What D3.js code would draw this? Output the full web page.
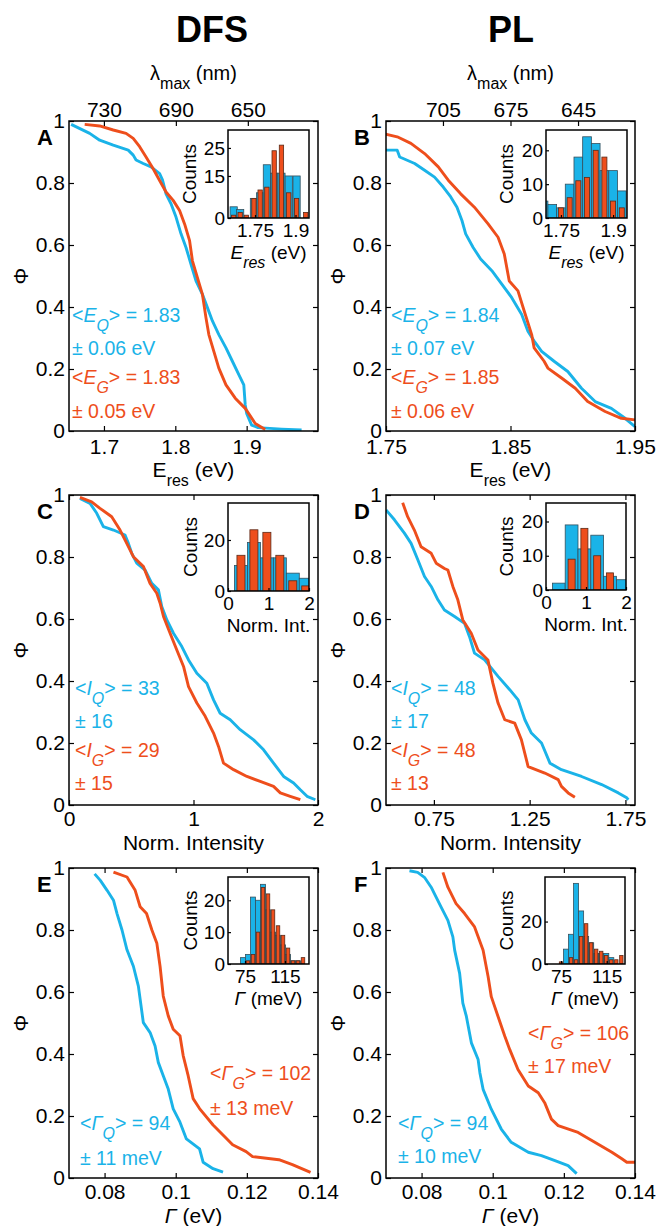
<!DOCTYPE html>
<html><head><meta charset="utf-8">
<script src="https://cdn.jsdelivr.net/npm/d3@7"></script>
<style>body{margin:0;background:#fff}svg{display:block}</style>
</head><body><svg id="c" width="658" height="1226"></svg>
<script>
// ---------------- DATA ----------------
const phiTicks = [0, 0.2, 0.4, 0.6, 0.8, 1];
const phiLabels = ["0", "0.2", "0.4", "0.6", "0.8", "1"];

const xTicksA = [1.7, 1.8, 1.9], xLabelsA = ["1.7", "1.8", "1.9"];
const xTicksB = [1.75, 1.85, 1.95], xLabelsB = ["1.75", "1.85", "1.95"];
const xTicksC = [0, 1, 2], xLabelsC = ["0", "1", "2"];
const xTicksD = [0.75, 1.25, 1.75], xLabelsD = ["0.75", "1.25", "1.75"];
const xTicksEF = [0.08, 0.1, 0.12, 0.14], xLabelsEF = ["0.08", "0.1", "0.12", "0.14"];
const lambdaTicksA = [730, 690, 650];
const lambdaTicksB = [705, 675, 645];

// CDF curves [value, Phi]
const curveA_Q = [[1.654,0.989],[1.680,0.96],[1.694,0.938],[1.713,0.922],[1.734,0.906],[1.741,0.89],[1.745,0.874],[1.755,0.863],[1.766,0.852],[1.778,0.83],[1.782,0.81],[1.787,0.765],[1.794,0.733],[1.801,0.69],[1.808,0.636],[1.815,0.592],[1.822,0.538],[1.829,0.484],[1.838,0.441],[1.845,0.398],[1.852,0.355],[1.861,0.311],[1.871,0.268],[1.880,0.225],[1.889,0.182],[1.896,0.149],[1.898,0.084],[1.900,0.057],[1.907,0.019],[1.916,0.011],[1.949,0.006],[1.977,0.003]];
const curveA_G = [[1.673,0.989],[1.694,0.984],[1.713,0.971],[1.731,0.96],[1.741,0.944],[1.75,0.917],[1.759,0.884],[1.769,0.846],[1.778,0.808],[1.787,0.771],[1.797,0.744],[1.806,0.711],[1.813,0.668],[1.82,0.614],[1.824,0.549],[1.831,0.495],[1.838,0.441],[1.843,0.365],[1.847,0.311],[1.854,0.257],[1.861,0.203],[1.871,0.149],[1.884,0.106],[1.898,0.073],[1.912,0.024],[1.926,0.005]];
const curveB_Q = [[1.745,0.906],[1.759,0.906],[1.761,0.884],[1.773,0.863],[1.781,0.841],[1.789,0.819],[1.796,0.787],[1.802,0.755],[1.807,0.722],[1.811,0.679],[1.814,0.636],[1.82,0.592],[1.826,0.555],[1.835,0.517],[1.843,0.474],[1.851,0.43],[1.859,0.376],[1.864,0.322],[1.869,0.29],[1.875,0.257],[1.885,0.225],[1.896,0.192],[1.907,0.138],[1.918,0.095],[1.931,0.073],[1.942,0.041],[1.95,0.014]];
const curveB_G = [[1.745,0.962],[1.759,0.949],[1.77,0.928],[1.781,0.895],[1.792,0.852],[1.8,0.809],[1.81,0.765],[1.821,0.722],[1.832,0.668],[1.84,0.625],[1.845,0.571],[1.849,0.484],[1.856,0.452],[1.861,0.387],[1.867,0.311],[1.869,0.268],[1.877,0.225],[1.88,0.203],[1.891,0.171],[1.902,0.138],[1.912,0.095],[1.926,0.063],[1.939,0.041],[1.95,0.036]];
const curveC_Q = [[0.088,0.989],[0.169,0.973],[0.223,0.941],[0.276,0.898],[0.357,0.887],[0.45,0.871],[0.477,0.844],[0.504,0.812],[0.544,0.78],[0.611,0.758],[0.665,0.715],[0.718,0.694],[0.745,0.64],[0.786,0.597],[0.839,0.554],[0.906,0.511],[0.96,0.468],[1.027,0.425],[1.107,0.393],[1.161,0.339],[1.214,0.296],[1.295,0.275],[1.375,0.243],[1.483,0.21],[1.563,0.178],[1.643,0.135],[1.724,0.092],[1.804,0.071],[1.858,0.049],[1.912,0.028],[1.979,0.017]];
const curveC_G = [[0.088,0.992],[0.182,0.978],[0.249,0.957],[0.343,0.93],[0.41,0.887],[0.464,0.844],[0.517,0.801],[0.598,0.769],[0.651,0.715],[0.705,0.683],[0.732,0.651],[0.759,0.608],[0.812,0.554],[0.866,0.5],[0.92,0.447],[0.96,0.382],[1.027,0.329],[1.094,0.286],[1.161,0.232],[1.201,0.189],[1.241,0.135],[1.322,0.114],[1.429,0.092],[1.536,0.076],[1.643,0.06],[1.697,0.039],[1.777,0.028],[1.858,0.017]];
const curveD_Q = [[0.5,0.952],[0.544,0.92],[0.596,0.877],[0.631,0.844],[0.666,0.791],[0.701,0.737],[0.736,0.705],[0.771,0.662],[0.805,0.629],[0.858,0.608],[0.91,0.586],[0.936,0.543],[0.962,0.49],[1.015,0.468],[1.085,0.415],[1.146,0.372],[1.19,0.339],[1.225,0.275],[1.259,0.232],[1.312,0.2],[1.356,0.135],[1.416,0.114],[1.521,0.092],[1.626,0.066],[1.713,0.039],[1.757,0.023],[1.765,0.017]];
const curveD_G = [[0.587,0.975],[0.613,0.93],[0.648,0.887],[0.683,0.833],[0.736,0.812],[0.762,0.78],[0.805,0.763],[0.823,0.758],[0.849,0.705],[0.875,0.662],[0.901,0.597],[0.945,0.554],[0.98,0.5],[1.032,0.468],[1.058,0.393],[1.085,0.329],[1.12,0.275],[1.172,0.264],[1.207,0.21],[1.242,0.124],[1.329,0.103],[1.399,0.082],[1.416,0.06],[1.451,0.039],[1.486,0.025]];
const curveE_Q = [[0.0772,0.981],[0.0788,0.96],[0.0807,0.928],[0.0825,0.896],[0.0835,0.853],[0.0849,0.8],[0.0863,0.736],[0.0881,0.683],[0.0895,0.619],[0.0909,0.501],[0.0928,0.469],[0.0942,0.426],[0.0951,0.373],[0.0965,0.33],[0.0979,0.287],[0.0993,0.223],[0.1012,0.18],[0.103,0.126],[0.1067,0.094],[0.1077,0.051],[0.1105,0.03],[0.1133,0.019]];
const curveE_G = [[0.0825,0.987],[0.0863,0.971],[0.0886,0.928],[0.09,0.875],[0.0918,0.853],[0.0933,0.8],[0.0947,0.757],[0.0956,0.683],[0.0965,0.587],[0.0979,0.523],[0.0993,0.48],[0.1012,0.459],[0.1021,0.395],[0.1035,0.33],[0.1049,0.256],[0.1067,0.224],[0.1105,0.171],[0.1142,0.128],[0.116,0.107],[0.1198,0.085],[0.1216,0.069],[0.129,0.059],[0.1328,0.043],[0.1379,0.018]];
const curveF_Q = [[0.0766,0.991],[0.0789,0.986],[0.0808,0.97],[0.0827,0.938],[0.0836,0.917],[0.0855,0.874],[0.0874,0.831],[0.0888,0.778],[0.0893,0.735],[0.0907,0.66],[0.0916,0.564],[0.0926,0.521],[0.094,0.436],[0.0959,0.382],[0.0964,0.339],[0.0973,0.286],[0.0996,0.222],[0.1024,0.158],[0.1052,0.115],[0.11,0.083],[0.1137,0.072],[0.1175,0.056],[0.1212,0.04],[0.1236,0.014]];
const curveF_G = [[0.086,0.986],[0.0874,0.938],[0.0897,0.885],[0.0921,0.853],[0.0949,0.81],[0.0973,0.735],[0.0987,0.65],[0.0996,0.585],[0.1015,0.521],[0.1034,0.457],[0.1048,0.414],[0.1071,0.35],[0.11,0.297],[0.1128,0.275],[0.1146,0.243],[0.1165,0.19],[0.1184,0.169],[0.124,0.147],[0.1287,0.115],[0.1335,0.083],[0.1363,0.062],[0.1377,0.051],[0.1405,0.051]];

// Inset histograms: bin centres and counts
const histA_bins = [1.671,1.695,1.718,1.746,1.769,1.794,1.821,1.848,1.875,1.904,1.938];
const histA_Q = [4,3,0,7,9,19,16,16,15,15,0];
const histA_G = [1,2,1,7,10,11,24,26,9,7,2];
const histB_bins = [1.70,1.725,1.75,1.775,1.80,1.825,1.85,1.875,1.90,1.925];
const histB_Q = [5,4,3,10,18,24,22,14,14,8];
const histB_G = [0,0,3,6,11,12,20,18,5,3];
const histC_bins = [0.32,0.64,0.96,1.28,1.60,1.92];
const histC_Q = [10,19,13,13,7,5];
const histC_G = [14,24,23,14,4,2];
const histD_bins = [0.32,0.64,0.96,1.28,1.60,1.92];
const histD_Q = [2,19,12,16,4,3];
const histD_G = [0,9,18,10,5,0];
const histE_bins = [73,78,83,88,93,98,103,108,113,118,123,128,133];
const histE_Q = [2,3,21,20,25,17,10,9,6,3,1,1,0];
const histE_G = [0,1,3,10,24,22,17,12,9,5,1,1,2];
const histF_bins = [75,79.4,83.8,88.2,92.6,97,101.4,105.8,110.2,114.6,119,123.4,127.8];
const histF_Q = [0,7,14,38,25,13,10,5,5,5,3,0,0];
const histF_G = [1,0,3,2,13,19,10,7,6,4,2,2,4];

const insetTicksAB_x = [1.75, 1.9], insetLabelsAB_x = ["1.75", "1.9"];
const insetTicksCD_x = [0, 1, 2], insetLabelsCD_x = ["0", "1", "2"];
const insetTicksEF_x = [75, 115], insetLabelsEF_x = ["75", "115"];

// ---------------- DRAW ----------------
const FONT = '"Liberation Sans", Arial, Helvetica, sans-serif';
const CY = "#1ab3e8", OR = "#ee4e1c";
const svg = d3.select("#c").attr("font-family", FONT);

function styleAxis(sel, fs) {
  sel.select(".domain").remove();
  sel.attr("font-family", FONT).attr("font-size", fs);
  sel.selectAll("line").attr("stroke", "#000").attr("stroke-width", 1.2);
  sel.selectAll("text").attr("fill", "#000");
}

function rich(parent, x, y, parts, opts) {
  const t = parent.append("text").attr("x", x).attr("y", y)
    .attr("font-size", opts.fs).attr("fill", opts.color || "#000")
    .attr("text-anchor", opts.anchor || "start");
  let shift = 0;
  parts.forEach(p => {
    const ts = t.append("tspan").text(p.t);
    const target = p.sub ? opts.subShift : 0;
    if (target !== shift) { ts.attr("dy", target - shift); shift = target; }
    if (p.sub) ts.attr("font-size", opts.subFs);
    if (p.i) ts.attr("font-style", "italic");
  });
  return t;
}

let clipN = 0;
function clip(x0, y0, x1, y1) {
  const id = "cl" + (clipN++);
  svg.append("clipPath").attr("id", id).append("rect")
    .attr("x", x0).attr("y", y0).attr("width", x1 - x0).attr("height", y1 - y0);
  return `url(#${id})`;
}

function panel(p) {
  const g = svg.append("g");
  const x = d3.scaleLinear().domain(p.xDomain).range([p.left, p.right]);
  const y = d3.scaleLinear().domain([0, 1]).range([p.bottom, p.top]);
  const cp = clip(p.left, p.top, p.right, p.bottom);
  const line = d3.line().x(d => x(d[0])).y(d => y(d[1]));
  g.append("path").datum(p.q).attr("d", line).attr("fill", "none").attr("stroke", CY)
    .attr("stroke-width", 2.9).attr("stroke-linejoin", "round").attr("clip-path", cp);
  g.append("path").datum(p.g).attr("d", line).attr("fill", "none").attr("stroke", OR)
    .attr("stroke-width", 2.9).attr("stroke-linejoin", "round").attr("clip-path", cp);

  g.append("g").attr("transform", `translate(0,${p.bottom})`)
    .call(d3.axisBottom(x).tickValues(p.xTicks).tickFormat((d, i) => p.xLabels[i])
      .tickSizeInner(-5).tickSizeOuter(0).tickPadding(p.xPad)).call(styleAxis, 21);
  if (p.lambda) {
    const xl = d3.scaleLinear().domain(p.lambdaDomain).range([p.left, p.right]);
    g.append("g").attr("transform", `translate(0,${p.top})`)
      .call(d3.axisTop(xl).tickValues(p.lambda).tickFormat(d => d)
        .tickSizeInner(-5).tickSizeOuter(0).tickPadding(4)).call(styleAxis, 21);
    rich(g, (p.left + p.right) / 2, 80,
      [{ t: "λ" }, { t: "max", sub: true }, { t: " (nm)" }],
      { fs: 20, subFs: 16, subShift: 9, anchor: "middle" });
  } else {
    g.append("g").attr("transform", `translate(0,${p.top})`)
      .call(d3.axisTop(x).tickValues(p.xTicks).tickFormat("")
        .tickSizeInner(-5).tickSizeOuter(0)).call(styleAxis, 21);
  }
  g.append("g").attr("transform", `translate(${p.left},0)`)
    .call(d3.axisLeft(y).tickValues(phiTicks).tickFormat((d, i) => phiLabels[i])
      .tickSizeInner(-5).tickSizeOuter(0).tickPadding(4)).call(styleAxis, 21);
  g.append("g").attr("transform", `translate(${p.right},0)`)
    .call(d3.axisRight(y).tickValues(phiTicks).tickFormat("")
      .tickSizeInner(-5).tickSizeOuter(0)).call(styleAxis, 21);
  g.append("rect").attr("x", p.left).attr("y", p.top).attr("width", p.right - p.left)
    .attr("height", p.bottom - p.top).attr("fill", "none").attr("stroke", "#000").attr("stroke-width", 1.5);

  g.append("text").attr("transform", `translate(${p.left - 41},${(p.top + p.bottom) / 2}) rotate(-90)`)
    .attr("text-anchor", "middle").attr("font-size", 21).text("Φ");
  g.append("text").attr("x", p.left - 32).attr("y", p.top + 24).attr("font-size", 22)
    .attr("font-weight", "bold").text(p.letter);
  rich(g, (p.left + p.right) / 2, p.bottom + p.xlabOff, p.xlab,
    { fs: 21, subFs: 16, subShift: 9, anchor: "middle" });

  p.legend.forEach(l => rich(g, l.x, l.y, l.parts,
    { fs: 19.5, subFs: 16, subShift: 9, color: l.c }));

  inset(p.inset);
}

function inset(s) {
  const g = svg.append("g");
  const x = d3.scaleLinear().domain(s.xDomain).range([s.left, s.right]);
  const y = d3.scaleLinear().domain([0, s.yMax]).range([s.bottom, s.top]);
  g.append("rect").attr("x", s.left).attr("y", s.top).attr("width", s.right - s.left)
    .attr("height", s.bottom - s.top).attr("fill", "#fff");
  const cp = clip(s.left, s.top, s.right, s.bottom);
  const bars = g.append("g").attr("clip-path", cp);
  const wq = s.binW, wg = s.binW * s.gFrac;
  bars.selectAll(".q").data(s.bins.map((b, i) => [b, s.q[i]]).filter(d => d[1] > 0)).join("rect")
    .attr("x", d => x(d[0] - wq / 2)).attr("width", d => x(d[0] + wq / 2) - x(d[0] - wq / 2))
    .attr("y", d => y(d[1])).attr("height", d => s.bottom - y(d[1]))
    .attr("fill", CY).attr("stroke", "#34505e").attr("stroke-width", 0.8);
  bars.selectAll(".g").data(s.bins.map((b, i) => [b, s.g[i]]).filter(d => d[1] > 0)).join("rect")
    .attr("x", d => x(d[0] - wg / 2)).attr("width", d => x(d[0] + wg / 2) - x(d[0] - wg / 2))
    .attr("y", d => y(d[1])).attr("height", d => s.bottom - y(d[1]))
    .attr("fill", OR).attr("stroke", "#5a2a18").attr("stroke-width", 0.8);

  g.append("g").attr("transform", `translate(0,${s.bottom})`)
    .call(d3.axisBottom(x).tickValues(s.xTicks).tickFormat((d, i) => s.xLabels[i])
      .tickSizeInner(-3).tickSizeOuter(0).tickPadding(6)).call(styleAxis, 19);
  g.append("g").attr("transform", `translate(${s.left},0)`)
    .call(d3.axisLeft(y).tickValues(s.yTicks).tickFormat(d => d)
      .tickSizeInner(-3).tickSizeOuter(0).tickPadding(3)).call(styleAxis, 19);
  g.append("rect").attr("x", s.left).attr("y", s.top).attr("width", s.right - s.left)
    .attr("height", s.bottom - s.top).attr("fill", "none").attr("stroke", "#000").attr("stroke-width", 1.5);
  g.append("text").attr("transform", `translate(${s.countsX},${(s.top + s.bottom) / 2}) rotate(-90)`)
    .attr("text-anchor", "middle").attr("font-size", 19).text("Counts");
  rich(g, (s.left + s.right) / 2, s.bottom + 41, s.xlab,
    { fs: 19, subFs: 16, subShift: 9, anchor: "middle" });
}

svg.append("text").attr("x", 212).attr("y", 42).attr("text-anchor", "middle")
  .attr("font-size", 36).attr("font-weight", "bold").text("DFS");
svg.append("text").attr("x", 511).attr("y", 42).attr("text-anchor", "middle")
  .attr("font-size", 36).attr("font-weight", "bold").text("PL");

const eresMain = [{ t: "E" }, { t: "res", sub: true }, { t: " (eV)" }];
const eresInset = [{ t: "E", i: true }, { t: "res", sub: true, i: true }, { t: " (eV)" }];
const gammaMain = [{ t: "Γ", i: true }, { t: " (eV)" }];
const gammaInset = [{ t: "Γ", i: true }, { t: " (meV)" }];
const normInset = [{ t: "Norm. Int." }];
const normMain = [{ t: "Norm. Intensity" }];

function meanLine(sym, sub, val) {
  return [{ t: "<" }, { t: sym, i: true }, { t: sub, sub: true, i: true }, { t: "> = " + val }];
}

panel({
  letter: "A", left: 69, right: 318, top: 121, bottom: 431, xDomain: [1.651, 2.0],
  q: curveA_Q, g: curveA_G, xTicks: xTicksA, xLabels: xLabelsA, xPad: 8,
  lambda: lambdaTicksA, lambdaDomain: [749.4, 611], xlab: eresMain, xlabOff: 46,
  legend: [
    { x: 72, y: 322, c: CY, parts: meanLine("E", "Q", "1.83") },
    { x: 72, y: 355, c: CY, parts: [{ t: "± 0.06 eV" }] },
    { x: 72, y: 384, c: OR, parts: meanLine("E", "G", "1.83") },
    { x: 72, y: 418, c: OR, parts: [{ t: "± 0.05 eV" }] }],
  inset: { left: 228, right: 309, top: 130, bottom: 218, xDomain: [1.65, 1.95], yMax: 31.4,
    bins: histA_bins, q: histA_Q, g: histA_G, binW: 0.0267, gFrac: 0.6,
    xTicks: insetTicksAB_x, xLabels: insetLabelsAB_x, yTicks: [0, 15, 25], countsX: 196, xlab: eresInset }
});
panel({
  letter: "B", left: 386, right: 635, top: 121, bottom: 431, xDomain: [1.75, 1.95],
  q: curveB_Q, g: curveB_G, xTicks: xTicksB, xLabels: xLabelsB, xPad: 8,
  lambda: lambdaTicksB, lambdaDomain: [730.3, 619.7], xlab: eresMain, xlabOff: 46,
  legend: [
    { x: 391, y: 322, c: CY, parts: meanLine("E", "Q", "1.84") },
    { x: 391, y: 355, c: CY, parts: [{ t: "± 0.07 eV" }] },
    { x: 391, y: 384, c: OR, parts: meanLine("E", "G", "1.85") },
    { x: 391, y: 418, c: OR, parts: [{ t: "± 0.06 eV" }] }],
  inset: { left: 546, right: 627, top: 130, bottom: 218, xDomain: [1.707, 1.94], yMax: 26,
    bins: histB_bins, q: histB_Q, g: histB_G, binW: 0.025, gFrac: 0.58,
    xTicks: insetTicksAB_x, xLabels: insetLabelsAB_x, yTicks: [0, 10, 20], countsX: 513, xlab: eresInset }
});
panel({
  letter: "C", left: 69, right: 318, top: 495, bottom: 805, xDomain: [0, 2],
  q: curveC_Q, g: curveC_G, xTicks: xTicksC, xLabels: xLabelsC, xPad: 6, xlab: normMain, xlabOff: 45,
  legend: [
    { x: 75, y: 695, c: CY, parts: meanLine("I", "Q", "33") },
    { x: 75, y: 728, c: CY, parts: [{ t: "± 16" }] },
    { x: 75, y: 757, c: OR, parts: meanLine("I", "G", "29") },
    { x: 75, y: 790, c: OR, parts: [{ t: "± 15" }] }],
  inset: { left: 228, right: 309, top: 503, bottom: 591, xDomain: [0, 2], yMax: 34.5,
    bins: histC_bins, q: histC_Q, g: histC_G, binW: 0.32, gFrac: 0.62,
    xTicks: insetTicksCD_x, xLabels: insetLabelsCD_x, yTicks: [0, 20], countsX: 197, xlab: normInset }
});
panel({
  letter: "D", left: 386, right: 635, top: 495, bottom: 805, xDomain: [0.5, 1.8],
  q: curveD_Q, g: curveD_G, xTicks: xTicksD, xLabels: xLabelsD, xPad: 6, xlab: normMain, xlabOff: 45,
  legend: [
    { x: 391, y: 695, c: CY, parts: meanLine("I", "Q", "48") },
    { x: 391, y: 728, c: CY, parts: [{ t: "± 17" }] },
    { x: 391, y: 757, c: OR, parts: meanLine("I", "G", "48") },
    { x: 391, y: 790, c: OR, parts: [{ t: "± 13" }] }],
  inset: { left: 546, right: 626, top: 503, bottom: 590, xDomain: [0, 2], yMax: 25.4,
    bins: histD_bins, q: histD_Q, g: histD_G, binW: 0.32, gFrac: 0.55,
    xTicks: insetTicksCD_x, xLabels: insetLabelsCD_x, yTicks: [0, 10, 20], countsX: 513, xlab: normInset }
});
panel({
  letter: "E", left: 69, right: 318, top: 868, bottom: 1178, xDomain: [0.07, 0.14],
  q: curveE_Q, g: curveE_G, xTicks: xTicksEF, xLabels: xLabelsEF, xPad: 6, xlab: gammaMain, xlabOff: 45,
  legend: [
    { x: 210, y: 1080, c: OR, parts: meanLine("Γ", "G", "102") },
    { x: 210, y: 1115, c: OR, parts: [{ t: "± 13 meV" }] },
    { x: 80, y: 1130, c: CY, parts: meanLine("Γ", "Q", "94") },
    { x: 80, y: 1165, c: CY, parts: [{ t: "± 11 meV" }] }],
  inset: { left: 228, right: 309, top: 877, bottom: 964, xDomain: [58, 139], yMax: 27.3,
    bins: histE_bins, q: histE_Q, g: histE_G, binW: 5, gFrac: 0.7,
    xTicks: insetTicksEF_x, xLabels: insetLabelsEF_x, yTicks: [0, 10, 20], countsX: 197, xlab: gammaInset }
});
panel({
  letter: "F", left: 386, right: 635, top: 868, bottom: 1178, xDomain: [0.07, 0.14],
  q: curveF_Q, g: curveF_G, xTicks: xTicksEF, xLabels: xLabelsEF, xPad: 6, xlab: gammaMain, xlabOff: 45,
  legend: [
    { x: 528, y: 1040, c: OR, parts: meanLine("Γ", "G", "106") },
    { x: 528, y: 1073, c: OR, parts: [{ t: "± 17 meV" }] },
    { x: 398, y: 1130, c: CY, parts: meanLine("Γ", "Q", "94") },
    { x: 398, y: 1163, c: CY, parts: [{ t: "± 10 meV" }] }],
  inset: { left: 545, right: 625, top: 877, bottom: 964, xDomain: [61, 131], yMax: 41,
    bins: histF_bins, q: histF_Q, g: histF_G, binW: 4.4, gFrac: 0.67,
    xTicks: insetTicksEF_x, xLabels: insetLabelsEF_x, yTicks: [0, 20], countsX: 513, xlab: gammaInset }
});
</script></body></html>
